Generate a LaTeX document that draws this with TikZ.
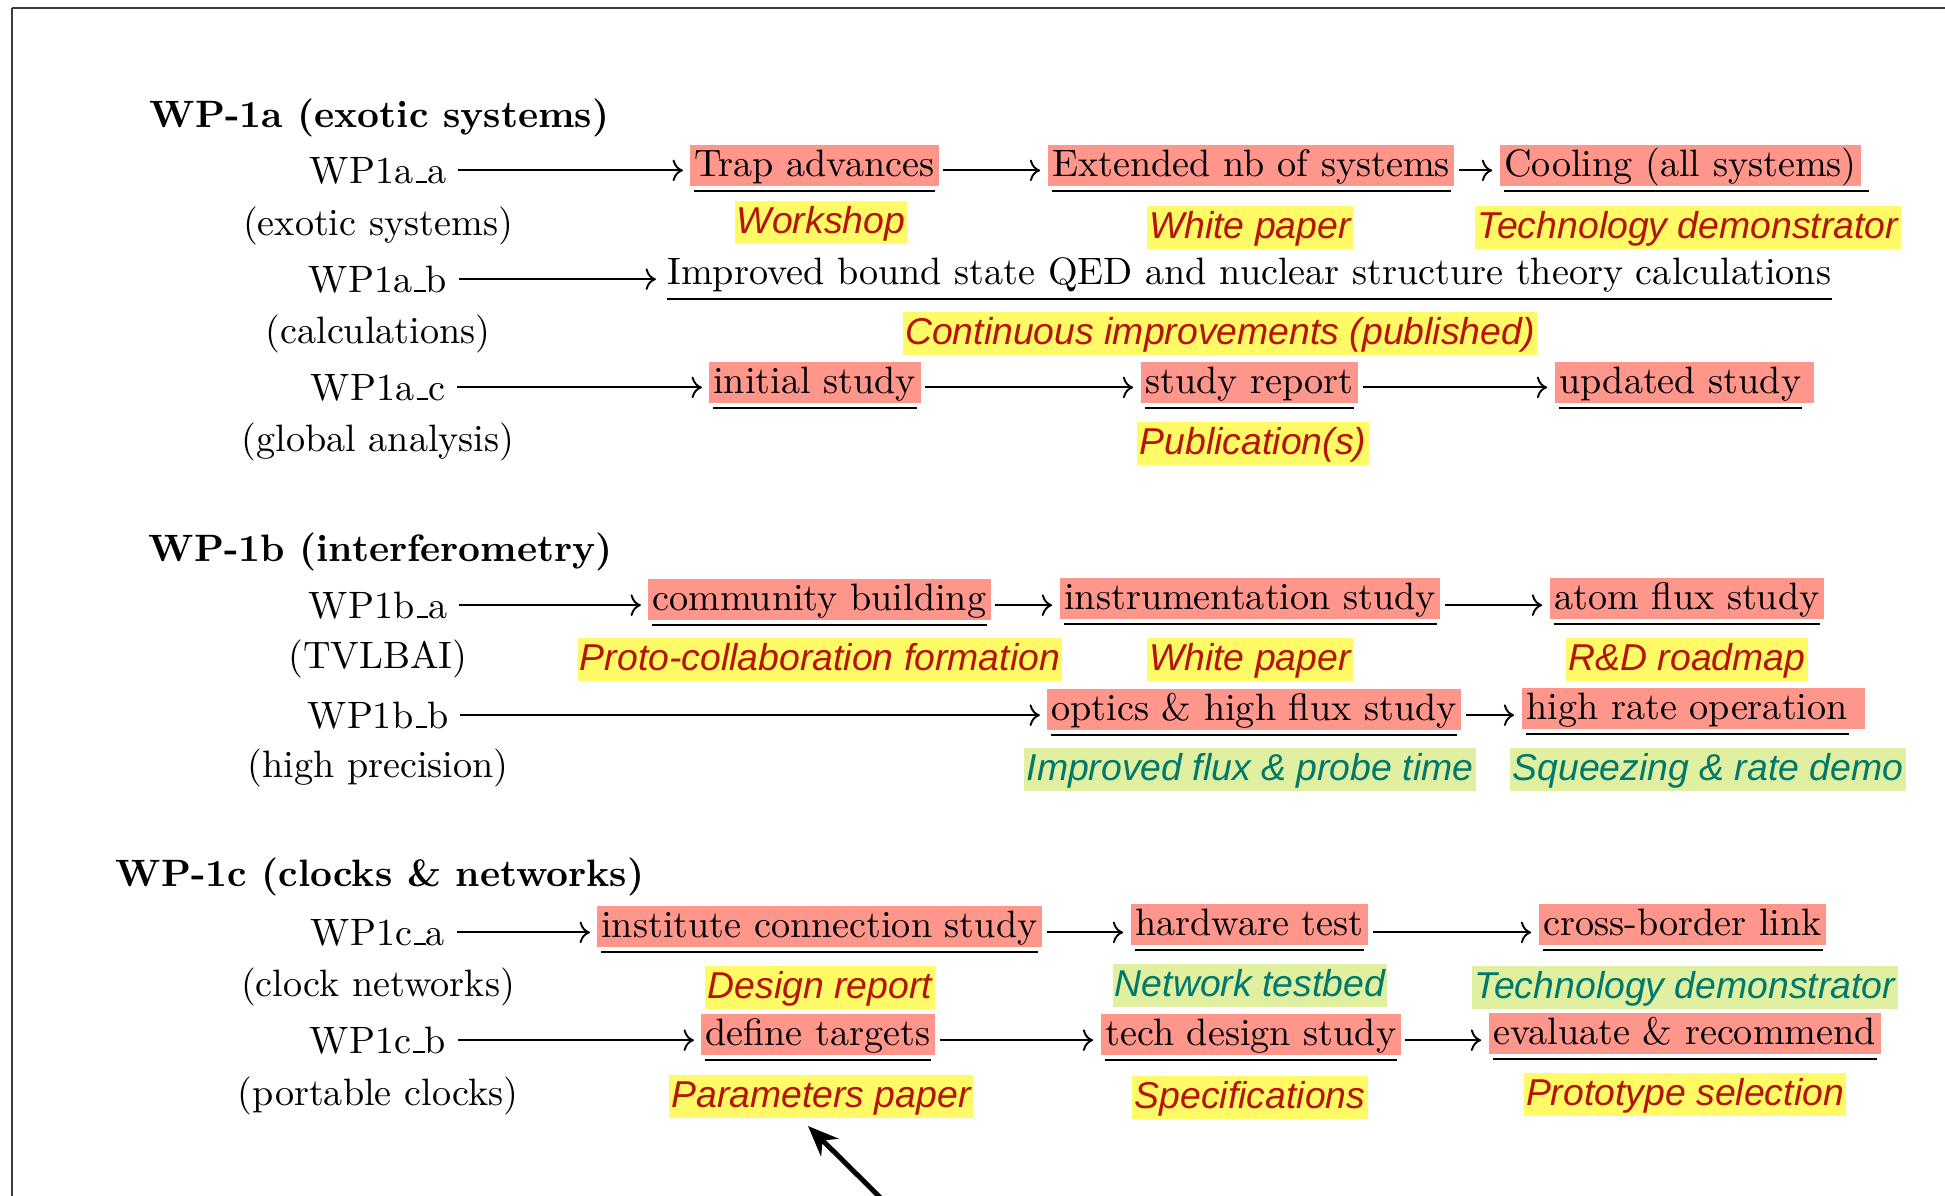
\documentclass[tikz,border=0pt]{standalone}
\usepackage{fontspec}
\newfontfamily\delfont{Liberation Sans}
\usetikzlibrary{arrows.meta}

\definecolor{taskpink}{RGB}{255,150,140}
\definecolor{hlyellow}{RGB}{255,250,102}
\definecolor{delred}{RGB}{180,20,0}
\definecolor{hlgreen}{RGB}{224,240,160}
\definecolor{delteal}{RGB}{0,120,108}
\definecolor{framegray}{RGB}{60,60,60}

% low underscore rule as in the classic text font
\newcommand\ubar{\kern.06em\vbox{\hrule width.3em}}

\tikzset{
  wp/.style={inner sep=3pt, anchor=base},
  head/.style={font=\bfseries, inner sep=0pt, anchor=base west},
  task/.style={fill=taskpink, inner xsep=1.2pt, inner ysep=0pt,
    text height=8.4pt, text depth=2.4pt, anchor=north west},
  plain/.style={fill=none},
  uline/.style={line width=0.5pt},
  deliv/.style={font=\fontsize{9.8}{11}\selectfont\delfont\itshape,
    text=delred, fill=hlyellow, inner xsep=0.6pt, inner ysep=0pt,
    text height=8.7pt, text depth=2.6pt, anchor=north},
  delivg/.style={deliv, text=delteal, fill=hlgreen},
  lead/.style={->, line width=0.5pt, shorten >=1.6pt},
  flow/.style={->, line width=0.5pt, shorten <=1pt, shorten >=1.8pt},
  frame/.style={line width=0.6pt, draw=framegray},
  pointer/.style={-{Stealth[length=8pt,width=6.5pt]}, line width=1.3pt},
}

% task box with its underline: [style] name, x, top, text, extra box padding, underline overhang
\newcommand\task[7][]{%
  \node[task,#1] (#2) at (#3,#4) {#5\hspace*{#6}};
  \draw[uline] ([xshift=1.2pt,yshift=-3.6pt]#2.base west) --
    ([xshift={-1.2pt-(#6)+(#7)},yshift=-3.6pt]#2.base east);
}

\begin{document}
\begin{tikzpicture}[x=0.2621pt, y=-0.2621pt]
\useasboundingbox (0,0) rectangle (1945,1195);
\clip (0,0) rectangle (1945,1195);

% frame edges
\draw[frame] (12,8) -- (1960,8);
\draw[frame] (12,8) -- (12,1210);

% ---------- WP-1a ----------
\node[head] (h1) at (149,127) {WP-1a (exotic systems)};

\node[wp] (l11) at (378,183) {WP1a\ubar a};
\node[wp] (s11) at (378,235) {(exotic systems)};
\node[wp] (l12) at (378,292) {WP1a\ubar b};
\node[wp] (s12) at (378,343) {(calculations)};
\node[wp] (l13) at (378,400) {WP1a\ubar c};
\node[wp] (s13) at (378,451) {(global analysis)};

\task{t11}{689}{144}{Trap advances}{0pt}{0pt}
\task{t12}{1047}{144}{Extended nb of systems}{0pt}{0pt}
\task{t13}{1499}{144}{Cooling (all systems)}{0pt}{3pt}
\task[plain]{t21}{662}{252}{Improved bound state QED and nuclear structure theory calculations}{0pt}{0pt}
\task{t31}{708}{361}{initial study}{0pt}{0pt}
\task{t32}{1140}{361}{study report}{0pt}{0pt}
\task{t33}{1554}{361}{updated study}{2pt}{0pt}

\draw[lead] (l11.east) -- (l11.east -| t11.west);
\draw[flow] (t11.east |- l11.east) -- (t12.west |- l11.east);
\draw[flow] (t12.east |- l11.east) -- (t13.west |- l11.east);
\draw[lead] (l12.east) -- (l12.east -| t21.west);
\draw[lead] (l13.east) -- (l13.east -| t31.west);
\draw[flow] (t31.east |- l13.east) -- (t32.west |- l13.east);
\draw[flow] (t32.east |- l13.east) -- (t33.west |- l13.east);

\node[deliv] (d11) at (821,200) {Workshop};
\node[deliv] (d12) at (1250,205) {White paper};
\node[deliv] (d13) at (1688,205) {Technology demonstrator};
\node[deliv] (d21) at (1220,311) {Continuous improvements (published)};
\node[deliv] (d32) at (1253,421) {Publication(s)};

% ---------- WP-1b ----------
\node[head] (h2) at (148,561) {WP-1b (interferometry)};

\node[wp] (l21) at (378,618) {WP1b\ubar a};
\node[wp] (s21) at (378,668) {(TVLBAI)};
\node[wp] (l22) at (378,728) {WP1b\ubar b};
\node[wp] (s22) at (378,777) {(high precision)};

\task{t41}{647}{578}{community building}{0pt}{0pt}
\task{t42}{1059}{577}{instrumentation study}{0pt}{0pt}
\task{t43}{1549}{577}{atom flux study}{0pt}{0pt}
\task{t51}{1046}{688}{optics \& high flux study}{0pt}{0pt}
\task{t52}{1521}{687}{high rate operation}{3.4pt}{0pt}

\draw[lead] (l21.east) -- (l21.east -| t41.west);
\draw[flow] (t41.east |- l21.east) -- (t42.west |- l21.east);
\draw[flow] (t42.east |- l21.east) -- (t43.west |- l21.east);
\draw[lead] (l22.east) -- (l22.east -| t51.west);
\draw[flow] (t51.east |- l22.east) -- (t52.west |- l22.east);

\node[deliv] (d41) at (820,637) {Proto-collaboration formation};
\node[deliv] (d42) at (1250,637) {White paper};
\node[deliv] (d43) at (1687,637) {R\&D roadmap};
\node[delivg] (d51) at (1250,747) {Improved flux \& probe time};
\node[delivg] (d52) at (1708,747) {Squeezing \& rate demo};

% ---------- WP-1c ----------
\node[head] (h3) at (115,886) {WP-1c (clocks \& networks)};

\node[wp] (l31) at (378,945) {WP1c\ubar a};
\node[wp] (s31) at (378,996) {(clock networks)};
\node[wp] (l32) at (378,1053) {WP1c\ubar b};
\node[wp] (s32) at (378,1105) {(portable clocks)};

\task{t61}{596}{905}{institute connection study}{0pt}{0pt}
\task{t62}{1130}{903}{hardware test}{0pt}{0pt}
\task{t63}{1538}{903}{cross-border link}{0pt}{0pt}
\task{t71}{700}{1013}{define targets}{0pt}{0pt}
\task{t72}{1100}{1013}{tech design study}{0pt}{0pt}
\task{t73}{1488}{1012}{evaluate \& recommend}{0pt}{0pt}

\draw[lead] (l31.east) -- (l31.east -| t61.west);
\draw[flow] (t61.east |- l31.east) -- (t62.west |- l31.east);
\draw[flow] (t62.east |- l31.east) -- (t63.west |- l31.east);
\draw[lead] (l32.east) -- (l32.east -| t71.west);
\draw[flow] (t71.east |- l32.east) -- (t72.west |- l32.east);
\draw[flow] (t72.east |- l32.east) -- (t73.west |- l32.east);

\node[deliv] (d61) at (820,965) {Design report};
\node[delivg] (d62) at (1250,963) {Network testbed};
\node[delivg] (d63) at (1685,965) {Technology demonstrator};
\node[deliv] (d71) at (821,1074) {Parameters paper};
\node[deliv] (d72) at (1250,1075) {Specifications};
\node[deliv] (d73) at (1685,1072) {Prototype selection};

% pointer towards the parameters paper
\coordinate (ptail) at (905,1222);
\coordinate (ptip) at (808,1126);
\draw[pointer] (ptail) -- (ptip);
\end{tikzpicture}
\end{document}
